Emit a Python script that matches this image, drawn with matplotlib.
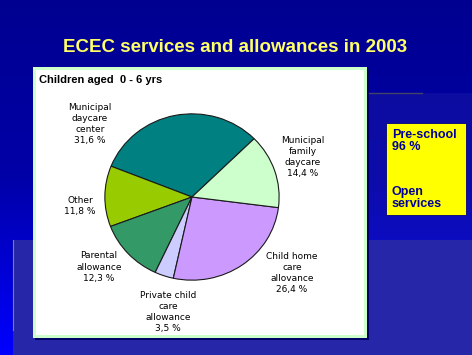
import numpy as np
import matplotlib
matplotlib.use("Agg")
import matplotlib.pyplot as plt
from matplotlib.patches import Rectangle
from matplotlib.colors import LinearSegmentedColormap

W, H = 472, 355

title = "ECEC services and allowances in 2003"
subtitle = "Children aged  0 - 6 yrs"
categories = ["Municipal\ndaycare\ncenter", "Other", "Parental\nallowance",
              "Private child\ncare\nallowance", "Child home\ncare\nallovance",
              "Municipal\nfamily\ndaycare"]
shares = [31.6, 11.8, 12.3, 3.5, 26.4, 14.4]
side_top = ["Pre-school", "96 %"]
side_bottom = ["Open", "services"]

# layout / style
colors = ["#008080", "#99CC00", "#339966", "#CCCCFF", "#CC99FF", "#CCFFCC"]
label_xy = [(90, 124), (80, 206), (99, 267), (168, 312), (292, 273), (303, 157)]
pie_cx, pie_cy, pie_rx, pie_ry = 192, 197, 88, 84

fig = plt.figure(figsize=(W / 100, H / 100), dpi=100)

# slide background
bg = fig.add_axes([0, 0, 1, 1])
bg.set_xlim(0, W); bg.set_ylim(H, 0); bg.axis("off")
cmap = LinearSegmentedColormap.from_list("slide", ["#000090", "#0000A8", "#0000FF"])
grad = np.linspace(0, 1, 256).reshape(-1, 1)
bg.imshow(grad, cmap=cmap, extent=[0, W, H, 0], aspect="auto", zorder=0)
bg.add_patch(Rectangle((367, 93), W - 367, 147, color="#3030B0", alpha=0.25, lw=0, zorder=1))
bg.add_patch(Rectangle((13, 240), W - 13, H - 240, color="#2626A8", lw=0, zorder=1))
bg.plot([13, 13], [240, 330], color="#8A8A40", lw=0.8, zorder=2)
bg.plot([367, 422], [93, 93], color="#444466", lw=1.0, zorder=2)

# white panel with light green border
bg.add_patch(Rectangle((35, 69), 334, 271, color="#000066", lw=0, zorder=3))
bg.add_patch(Rectangle((33, 67), 334, 271, facecolor="#CCFFCC", lw=0, zorder=4))
bg.add_patch(Rectangle((36, 70), 328, 265, facecolor="white", lw=0, zorder=5))

# yellow side box
bg.add_patch(Rectangle((386, 123), 80, 92, facecolor="#FFFF00", edgecolor="#000080", lw=0.6, zorder=3))

# pie
pax = fig.add_axes([(pie_cx - pie_rx) / W, (H - pie_cy - pie_ry) / H, 2 * pie_rx / W, 2 * pie_ry / H])
pax.pie(shares, colors=colors, startangle=44.5, counterclock=True,
        wedgeprops=dict(edgecolor="#1a1a1a", linewidth=0.8))
pax.set_aspect("auto")
pax.set_xlim(-1.01, 1.01); pax.set_ylim(-1.01, 1.01)
pax.axis("off")

# text layer
tx = fig.add_axes([0, 0, 1, 1], zorder=5)
tx.set_xlim(0, W); tx.set_ylim(H, 0); tx.axis("off"); tx.patch.set_alpha(0)
tx.text(235, 48, title, ha="center", va="center", color="#FFFF66",
        fontsize=13.5, fontweight="bold", family="Liberation Sans")
tx.text(39, 80, subtitle, ha="left", va="center", color="black",
        fontsize=8, fontweight="bold", family="Liberation Sans")
for name, val, (x, y) in zip(categories, shares, label_xy):
    lab = name + "\n" + f"{val:.1f}".replace(".", ",") + " %"
    tx.text(x, y, lab, ha="center", va="center", fontsize=6.5, linespacing=1.3,
            family="DejaVu Sans", color="black")
tx.text(392, 141, "\n".join(side_top), ha="left", va="center", color="#000099",
        fontsize=9, fontweight="bold", family="Liberation Sans", linespacing=1.1)
tx.text(392, 198, "\n".join(side_bottom), ha="left", va="center", color="#000099",
        fontsize=9, fontweight="bold", family="Liberation Sans", linespacing=1.1)

fig.savefig("out.png", dpi=100)
